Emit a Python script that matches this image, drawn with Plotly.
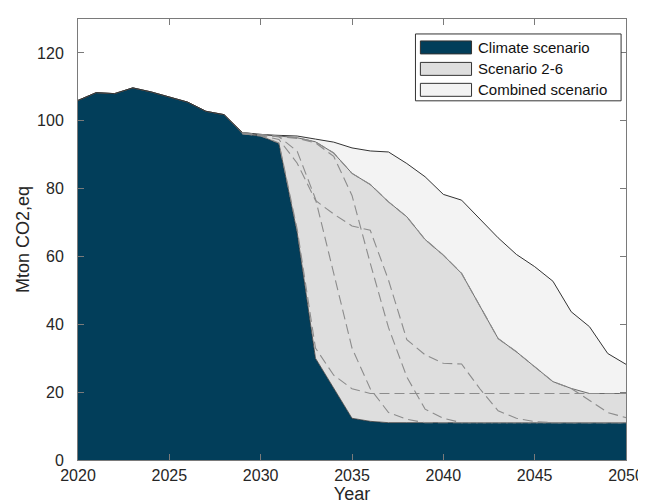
import plotly.graph_objects as go

years = list(range(2020, 2051))

# Climate scenario (dark area)
climate = [106.0, 108.3, 108.0, 109.7, 108.5, 107.0, 105.5, 102.8, 101.8, 96.2,
           95.5, 93.3, 67.0, 30.0, 21.0, 12.3, 11.4, 11.0, 11.0, 11.0,
           11.0, 11.0, 11.0, 11.0, 11.0, 11.0, 11.0, 11.0, 11.0, 11.0, 11.0]

# values from 2029 onward (before 2029 all scenarios follow the climate scenario)
combined_late = [96.5, 95.9, 95.7, 95.5, 94.6, 93.7, 92.0, 91.1, 90.8, 87.4, 83.5,
                 78.3, 76.6, 71.2, 65.5, 60.6, 57.0, 52.7, 43.7, 39.3, 31.4, 28.2]

scen_a = [96.2, 95.6, 94.5, 87.5, 76.5, 72.5, 69.0, 67.7, 53.0, 35.5, 31.0,
          28.5, 28.3, 21.0, 14.5, 12.3, 11.3, 11.0, 11.0, 11.0, 11.0, 11.0]
scen_b = [96.2, 95.7, 95.3, 91.0, 77.0, 55.0, 33.0, 21.0, 14.0, 12.0, 11.0,
          11.0, 11.0, 11.0, 11.0, 11.0, 11.0, 11.0, 11.0, 11.0, 11.0, 11.0]
scen_c = [96.3, 95.8, 95.3, 94.8, 93.5, 89.5, 78.0, 58.0, 39.0, 24.5, 15.0,
          12.3, 11.0, 11.0, 11.0, 11.0, 11.0, 11.0, 11.0, 11.0, 11.0, 11.0]
scen_d = [96.2, 95.5, 93.5, 68.0, 33.0, 25.0, 21.0, 19.6, 19.6, 19.6, 19.6,
          19.6, 19.6, 19.6, 19.6, 19.6, 19.6, 19.6, 19.6, 19.6, 19.6, 19.6]
scen_e = [96.5, 95.9, 95.5, 95.0, 93.8, 90.5, 84.5, 81.2, 76.1, 71.7, 65.0,
          60.4, 55.0, 45.4, 35.8, 31.9, 27.5, 23.1, 21.1, 17.5, 14.0, 12.5]

legend_names = ["Climate scenario", "Scenario 2-6", "Combined scenario"]
fill_colors = ["#023E5A", "#DEDEDE", "#F3F3F3"]

START = 9  # index of 2029
head = climate[:START]
combined = head + combined_late
scenarios = [head + s for s in (scen_a, scen_b, scen_c, scen_d, scen_e)]
envelope = [max(vals) for vals in zip(*scenarios)]

FONT = "Liberation Sans, Arial, sans-serif"
TXT = "#262626"
fig = go.Figure()

fig.add_trace(go.Scatter(x=years, y=climate, mode="lines", fill="tozeroy",
                         fillcolor=fill_colors[0], line=dict(color="#3a3a3a", width=0.8),
                         name=legend_names[0], showlegend=False))
fig.add_trace(go.Scatter(x=years, y=envelope, mode="lines", fill="tonexty",
                         fillcolor=fill_colors[1], line=dict(color="#6a6a6a", width=1),
                         name=legend_names[1], showlegend=False))
fig.add_trace(go.Scatter(x=years, y=combined, mode="lines", fill="tonexty",
                         fillcolor=fill_colors[2], line=dict(color="#333333", width=1),
                         name=legend_names[2], showlegend=False))

for s in scenarios:
    fig.add_trace(go.Scatter(x=years[START:], y=s[START:], mode="lines",
                             line=dict(color="#8c8c8c", width=1.1, dash="10px,5px"),
                             showlegend=False, hoverinfo="skip"))

# manual legend box (MATLAB style)
L, R, T, B = 70, 627, 10, 452
def px_x(p):
    return (p - L) / (R - L)
def px_y(p):
    return (B - p) / (B - T)

shapes = [dict(type="rect", xref="paper", yref="paper",
               x0=px_x(413), x1=px_x(622), y0=px_y(92), y1=px_y(25),
               fillcolor="white", line=dict(color="#333333", width=1))]
annotations = []
row_centers = [38.5, 60, 81]
for name, col, cy in zip(legend_names, fill_colors, row_centers):
    shapes.append(dict(type="rect", xref="paper", yref="paper",
                       x0=px_x(418), x1=px_x(470), y0=px_y(cy + 6.5), y1=px_y(cy - 6.5),
                       fillcolor=col, line=dict(color="#333333", width=1)))
    annotations.append(dict(xref="paper", yref="paper", x=px_x(475), y=px_y(cy),
                            xanchor="left", yanchor="middle", showarrow=False,
                            text=name, font=dict(family=FONT, size=15, color="#111111")))

axis_common = dict(showline=True, linecolor="#7a7a7a", linewidth=1, mirror="ticks",
                   ticks="inside", ticklen=6, tickcolor="#7a7a7a", showgrid=False,
                   zeroline=False, tickfont=dict(family=FONT, size=16, color=TXT))

fig.update_layout(
    width=646, height=504,
    margin=dict(l=L, r=646 - R, t=T, b=504 - B),
    paper_bgcolor="white", plot_bgcolor="white",
    font=dict(family=FONT, color=TXT),
    xaxis=dict(range=[2020, 2050], dtick=5, tick0=2020, ticklabelstandoff=1,
               title=dict(text="Year", font=dict(family=FONT, size=18, color=TXT),
                          standoff=0),
               **axis_common),
    yaxis=dict(range=[0, 130], tickvals=[0, 20, 40, 60, 80, 100, 120],
               ticklabelstandoff=10,
               title=dict(text="Mton CO2,eq", font=dict(family=FONT, size=18, color=TXT),
                          standoff=2),
               **axis_common),
    shapes=shapes,
    annotations=annotations,
    showlegend=False,
)

fig.write_html("out.html")
